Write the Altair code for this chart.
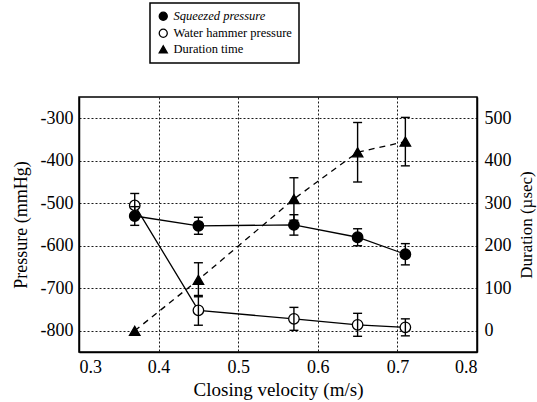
import altair as alt
import pandas as pd

# ---- data ----
velocity = [0.37, 0.45, 0.57, 0.65, 0.71]
squeezed = [-530, -553, -551, -580, -620]
squeezed_err = [22, 20, 24, 20, 25]
hammer = [-505, -752, -772, -786, -792]
hammer_err = [28, 35, 27, 27, 20]
duration = [0, 120, 310, 420, 445]
duration_err = [0, 40, 50, 70, 57]
series_names = ["Squeezed pressure", "Water hammer pressure", "Duration time"]

x_ticks = [0.3, 0.4, 0.5, 0.6, 0.7, 0.8]
p_ticks = [-800, -700, -600, -500, -400, -300]
d_ticks = [0, 100, 200, 300, 400, 500]

p_df = pd.DataFrame({
    "v": velocity * 2,
    "y": squeezed + hammer,
    "e": squeezed_err + hammer_err,
    "s": [series_names[0]] * 5 + [series_names[1]] * 5,
})
p_df["lo"] = p_df["y"] - p_df["e"]
p_df["hi"] = p_df["y"] + p_df["e"]

d_df = pd.DataFrame({"v": velocity, "y": duration, "e": duration_err,
                     "s": [series_names[2]] * 5})
d_df["lo"] = d_df["y"] - d_df["e"]
d_df["hi"] = d_df["y"] + d_df["e"]
d_err = d_df[d_df["e"] > 0]
p_err = p_df

FONT = "Liberation Serif"
LAB = 18
MINUS = "datum.value < 0 ? '-' + abs(datum.value) : '' + datum.value"

xenc = alt.X("v:Q", scale=alt.Scale(domain=[0.3, 0.8], nice=False),
             axis=alt.Axis(values=x_ticks, format=".1f",
                           labelFont=FONT, labelFontSize=LAB,
                           title="Closing velocity (m/s)", titleFontSize=19,
                           titlePadding=4, labelPadding=6))

shape_scale = alt.Scale(domain=series_names,
                        range=["circle", "circle", "triangle-up"])
fill_scale = alt.Scale(domain=series_names, range=["black", "white", "black"])
stroke_scale = alt.Scale(domain=series_names, range=["black", "black", "black"])
legend = alt.Legend(title=None, orient="none", legendX=71, legendY=-94,
                    labelFont=FONT, labelFontSize=12.5, labelColor="black",
                    strokeColor="black", fillColor="white",
                    symbolStrokeColor="black", symbolStrokeWidth=1.3,
                    symbolSize=65, padding=7, rowPadding=3, labelLimit=300,
                    labelFontStyle=alt.ExprRef(
                        "datum.label == 'Squeezed pressure' ? 'italic' : 'normal'"))


def y_left(field):
    return alt.Y(f"{field}:Q", scale=alt.Scale(domain=[-850, -250], nice=False),
                 axis=alt.Axis(values=p_ticks, title="Pressure (mmHg)",
                               labelFont=FONT, labelFontSize=LAB,
                               labelExpr=MINUS, labelPadding=6,
                               titleFontSize=18,
                               orient="left", titlePadding=10))


def y_right(field):
    return alt.Y(f"{field}:Q", scale=alt.Scale(domain=[-50, 550], nice=False),
                 axis=alt.Axis(values=d_ticks, title="Duration (\u00b5sec)",
                               labelFont=FONT, labelFontSize=LAB,
                               labelPadding=7, titleFontSize=17,
                               orient="right", grid=False, titleAngle=270,
                               titlePadding=24))


def points(df, yfun):
    return alt.Chart(df).mark_point(filled=True, strokeWidth=1.3,
                                    size=110, opacity=1, fillOpacity=1).encode(
        x=xenc, y=yfun("y"),
        shape=alt.Shape("s:N", scale=shape_scale, legend=legend),
        fill=alt.Fill("s:N", scale=fill_scale, legend=legend),
        stroke=alt.Stroke("s:N", scale=stroke_scale, legend=legend),
    )


def errbars(df, yfun):
    rule = alt.Chart(df).mark_rule(color="black", strokeWidth=1.4).encode(
        x=xenc, y=yfun("lo"), y2="hi")
    cap_lo = alt.Chart(df).mark_tick(color="black", orient="horizontal",
                                     size=9, thickness=1.4, opacity=1).encode(
        x=xenc, y=yfun("lo"))
    cap_hi = alt.Chart(df).mark_tick(color="black", orient="horizontal",
                                     size=9, thickness=1.4, opacity=1).encode(
        x=xenc, y=yfun("hi"))
    return rule + cap_lo + cap_hi


line_p = alt.Chart(p_df).mark_line(color="black", strokeWidth=1.3).encode(
    x=xenc, y=y_left("y"), detail="s:N")
left = alt.layer(line_p, points(p_df, y_left), errbars(p_err, y_left))

line_d = alt.Chart(d_df).mark_line(color="black", strokeWidth=1.3,
                                   strokeDash=[6, 5]).encode(
    x=xenc, y=y_right("y"))
right = alt.layer(line_d, points(d_df, y_right), errbars(d_err, y_right))

chart = alt.layer(left, right).resolve_scale(y="independent").properties(
    width=398, height=255,
    autosize=alt.AutoSizeParams(type="none"),
    padding={"left": 79, "top": 97, "right": 60, "bottom": 50},
    background="white",
).configure(
    font=FONT,
).configure_axis(
    labelFont=FONT, labelFontSize=LAB, labelColor="black",
    titleFont=FONT, titleFontSize=18, titleFontWeight="normal", titleColor="black",
    grid=True, gridDash=[2, 2], gridColor="black", gridOpacity=0.9, gridWidth=1,
    domain=True, domainColor="black", domainWidth=1.5,
    ticks=False,
).configure_view(
    stroke="black", strokeWidth=1.5
).configure_legend(
    labelFont=FONT, labelFontSize=12.5, labelColor="black",
    strokeColor="black", strokeWidth=1.5, fillColor="white", padding=7,
    rowPadding=3, symbolSize=65, symbolStrokeWidth=1.3, symbolStrokeColor="black",
    labelLimit=300, offset=0, cornerRadius=0, symbolOpacity=1,
)

chart.save("out.html", embed_options={"renderer": "svg", "actions": False})
